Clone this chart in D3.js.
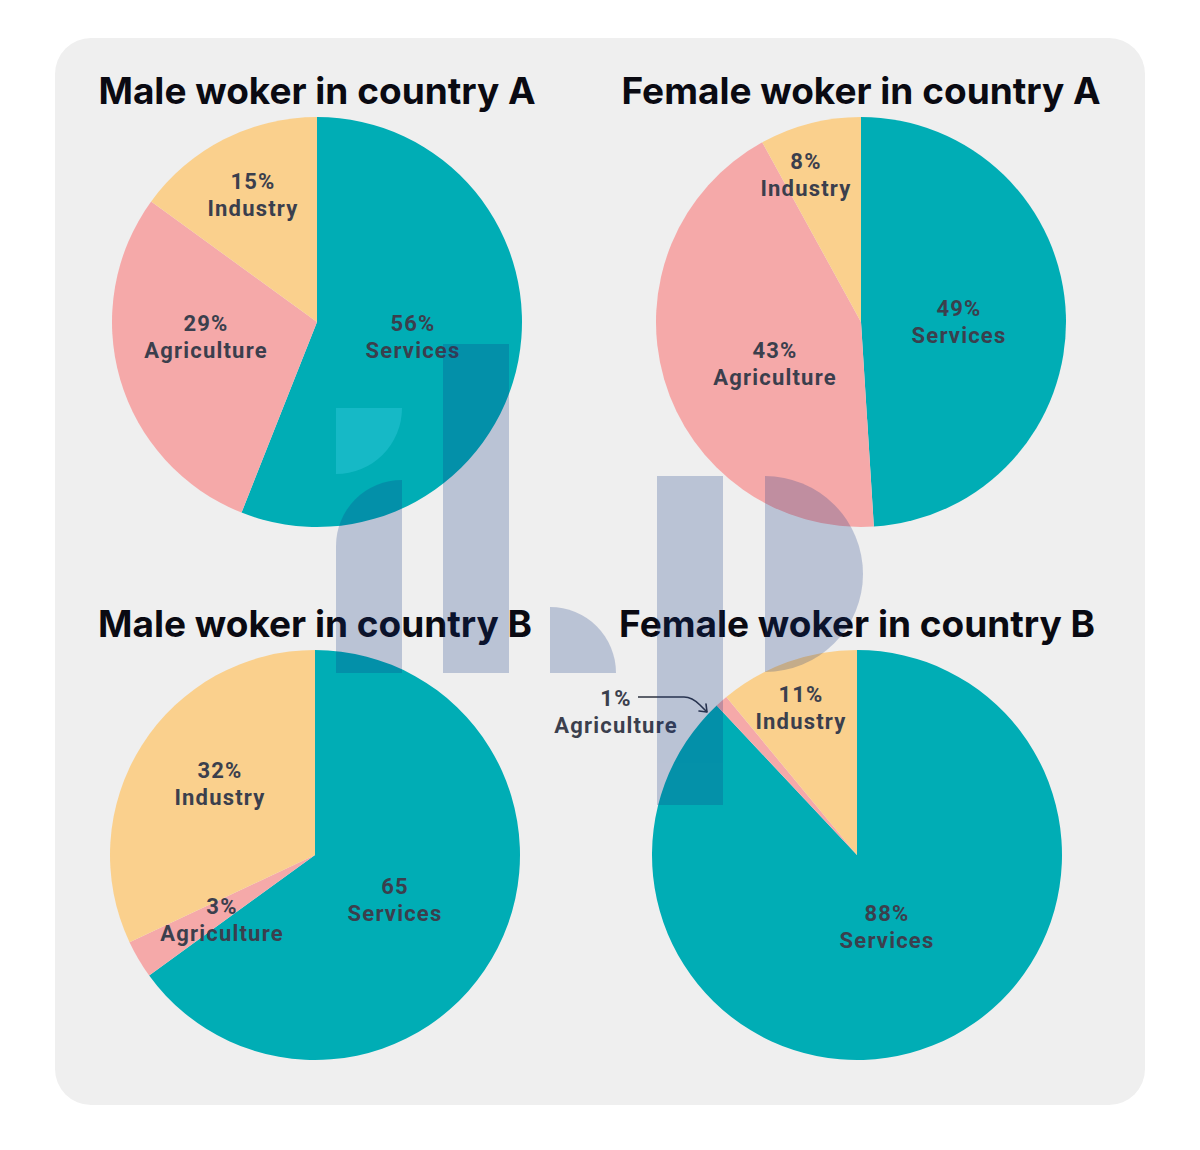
<!DOCTYPE html>
<html>
<head>
<meta charset="utf-8">
<script src="https://cdn.jsdelivr.net/npm/d3@7"></script>
<style>
  html, body { margin: 0; padding: 0; background: #ffffff; }
  svg { display: block; }
</style>
</head>
<body>
<svg id="chart" width="1200" height="1150"></svg>
<script>
// ---- data ----
const chartTitles = ["Male woker in country A", "Female woker in country A", "Male woker in country B", "Female woker in country B"];
const sectors = ["Services", "Agriculture", "Industry"];
const maleA = [56, 29, 15];
const femaleA = [49, 43, 8];
const maleB = [65, 3, 32];
const femaleB = [88, 1, 11];
const valueLabels = [
  ["56%", "29%", "15%"],
  ["49%", "43%", "8%"],
  ["65", "3%", "32%"],
  ["88%", "1%", "11%"]
];

// ---- layout / style (kept apart from data) ----
const colors = { Services: "#00adb5", Agriculture: "#f5a9a9", Industry: "#fad08d" };
const centers = [[317, 322], [861, 322], [315, 855], [857, 855]];
const titleY = [104, 104, 637, 637];
const radius = 205;
// label offsets relative to pie center (dx, dy of label block center)
const labelOffsets = [
  [[96, 15], [-111, 15], [-64, -127]],
  [[98, 0], [-86, 42], [-55, -147]],
  [[80, 45], [-93, 65], [-95, -71]],
  [[30, 72], [-241, -143], [-56, -147]]
];

const series = [maleA, femaleA, maleB, femaleB];
const svg = d3.select("#chart");

// background panel
svg.append("rect")
  .attr("x", 55).attr("y", 38).attr("width", 1090).attr("height", 1067)
  .attr("rx", 36).attr("ry", 36)
  .attr("fill", "#efefef");

const pie = d3.pie().sort(null).value(d => d.value);
const arc = d3.arc().innerRadius(0).outerRadius(radius);

series.forEach((vals, i) => {
  const data = sectors.map((s, k) => ({ sector: s, value: vals[k], label: valueLabels[i][k], off: labelOffsets[i][k] }));
  const g = svg.append("g").attr("transform", `translate(${centers[i][0]},${centers[i][1]})`);

  g.selectAll("path.slice")
    .data(pie(data))
    .join("path")
    .attr("class", "slice")
    .attr("d", arc)
    .attr("fill", d => colors[d.data.sector]);

  // title
  svg.append("text")
    .attr("x", centers[i][0])
    .attr("y", titleY[i])
    .attr("text-anchor", "middle")
    .attr("font-family", "Inter, 'Liberation Sans', sans-serif")
    .attr("font-weight", 700)
    .attr("font-size", 37)
    .attr("fill", "#0a0a12")
    .text(chartTitles[i]);

  // labels
  const lab = g.selectAll("g.lab")
    .data(data)
    .join("g")
    .attr("class", "lab")
    .attr("transform", d => `translate(${d.off[0]},${d.off[1]})`);
  lab.append("text")
    .attr("y", -6)
    .attr("text-anchor", "middle")
    .attr("font-family", "Roboto, Inter, sans-serif")
    .attr("font-weight", 700)
    .attr("font-size", 22)
    .attr("letter-spacing", 1.2)
    .attr("fill", "#3b3f4d")
    .text(d => d.label);
  lab.append("text")
    .attr("y", 21)
    .attr("text-anchor", "middle")
    .attr("font-family", "Roboto, Inter, sans-serif")
    .attr("font-weight", 700)
    .attr("font-size", 22)
    .attr("letter-spacing", 1.2)
    .attr("fill", "#3b3f4d")
    .text(d => d.sector);
});

// annotation arrow for 1% Agriculture (female B)
const arrowPath = d3.path();
arrowPath.moveTo(638, 697);
arrowPath.lineTo(684, 697);
arrowPath.quadraticCurveTo(692, 697, 700, 705);
arrowPath.lineTo(707, 712);
svg.append("path")
  .attr("d", arrowPath.toString())
  .attr("fill", "none")
  .attr("stroke", "#2e3340")
  .attr("stroke-width", 1.6);
svg.append("path")
  .attr("d", "M707,712 L699,711 M707,712 L706,704")
  .attr("fill", "none")
  .attr("stroke", "#2e3340")
  .attr("stroke-width", 1.6)
  .attr("stroke-linecap", "round");

// watermark overlay (decorative)
const wm = svg.append("g").attr("fill", "#113482").attr("opacity", 0.23);
wm.append("path").attr("d", "M402,480 L402,673 L336,673 L336,546 A66,66 0 0 1 402,480 Z");
wm.append("rect").attr("x", 443).attr("y", 344).attr("width", 66).attr("height", 329);
wm.append("path").attr("d", "M550,673 L550,607 A66,66 0 0 1 616,673 Z");
wm.append("rect").attr("x", 657).attr("y", 476).attr("width", 66).attr("height", 329);
wm.append("path").attr("d", "M765,476 A98,98 0 0 1 765,672 Z");
svg.append("path")
  .attr("d", "M336,408 L402,408 A66,66 0 0 1 336,474 Z")
  .attr("fill", "#3fd0e6").attr("opacity", 0.35);
</script>
</body>
</html>
